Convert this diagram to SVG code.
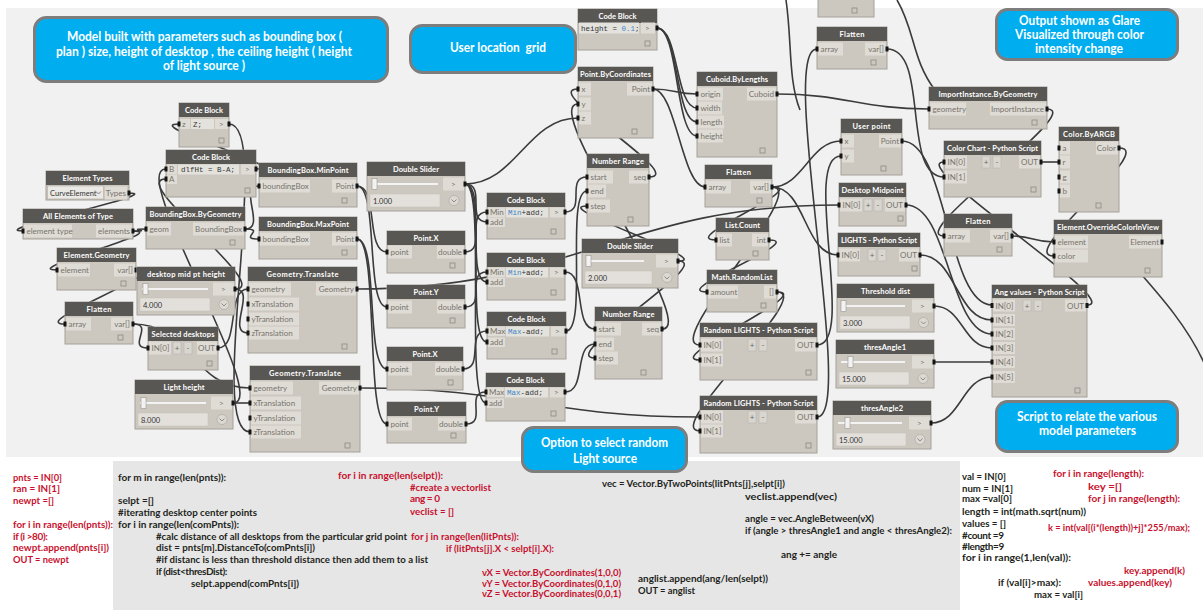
<svg xmlns="http://www.w3.org/2000/svg" width="1203" height="610" viewBox="0 0 1203 610">
<style>
.nb{fill:#ccc8c0;stroke:#a6a29a;stroke-width:1}
.nh{fill:#595753}
.ht{font-family:Lato,"Open Sans",sans-serif;font-weight:700;font-size:7.5px;fill:#fff;text-anchor:middle}
.pl{fill:#dfdcd6}
.ca{fill:#e4e2dd}
.pt{font-family:Lato,"Open Sans",sans-serif;font-size:8px;fill:#77736c}
.pr{text-anchor:end}
.pc{fill:#151515}
.ic{fill:none;stroke:#8d8983;stroke-width:.8}
.cd{font-family:"Liberation Mono","DejaVu Sans Mono",monospace;font-size:7.5px;fill:#333}
.bl{fill:#3f86c6}
.btn{fill:#d9d6d0;stroke:#b5b1aa;stroke-width:.5}
.bt{font-family:Lato,sans-serif;font-size:8px;fill:#666;text-anchor:middle}
.vb{fill:#e3e0db;stroke:#c2beb7;stroke-width:.5}
.tv{font-family:Lato,sans-serif;font-size:7.5px;fill:#333}
.th{fill:#f2f2f2;stroke:#9a968f;stroke-width:.6}
.trk{stroke:#f3f3f3;stroke-width:2}
.cc{fill:#dcd9d3;stroke:#a9a59e;stroke-width:.6}
.cv{fill:none;stroke:#777;stroke-width:.8}
.w{fill:none;stroke:#3b3b3b;stroke-width:1.6}
.co{fill:#00aeef;stroke:#7d7d7d;stroke-width:3}
.ct{font-family:Lato,"Open Sans",sans-serif;font-weight:700;font-size:12.5px;fill:#fff;text-anchor:middle}
.tk{font-family:Lato,"Open Sans",sans-serif;font-weight:700;font-size:10px;fill:#231f20}
.nx{letter-spacing:-0.4px}
.tr{fill:#c8102e}
</style>
<rect x="0" y="0" width="1203" height="610" fill="#ffffff"/>
<rect x="6" y="8" width="1197" height="449" fill="#f1f1f1"/>
<rect x="113" y="461" width="847" height="149" fill="#e6e6e6"/>

<g id="connectors">
<path class="w" d="M129,193 C169,193 -17,231 23,231"/>
<path class="w" d="M133,231 C155,231 124,229 146,229"/>
<path class="w" d="M133,231 C173,231 17,270 57,270"/>
<path class="w" d="M136,270 C176,270 25,324 65,324"/>
<path class="w" d="M133,324 C155,324 126,348 148,348"/>
<path class="w" d="M133,324 C191,324 192,388 250,388"/>
<path class="w" d="M218,348 C240,348 226,289 248,289"/>
<path class="w" d="M235,289 C257,289 226,333 248,333"/>
<path class="w" d="M235,289 C275,289 126,179 166,179"/>
<path class="w" d="M233,403 C273,403 126,169 166,169"/>
<path class="w" d="M233,403 L250,403"/>
<path class="w" d="M256,169 C296,169 139,124 179,124"/>
<path class="w" d="M229,124 C274,124 205,432 250,432"/>
<path class="w" d="M245,229 C267,229 237,186 259,186"/>
<path class="w" d="M245,229 C267,229 237,239 259,239"/>
<path class="w" d="M357,186 C379,186 365,252 387,252"/>
<path class="w" d="M357,186 C379,186 365,307 387,307"/>
<path class="w" d="M357,239 C379,239 365,369 387,369"/>
<path class="w" d="M357,239 C379,239 365,424 387,424"/>
<path class="w" d="M465,184 C487,184 465,222 487,222"/>
<path class="w" d="M465,184 C487,184 465,282 487,282"/>
<path class="w" d="M465,184 C487,184 465,342 487,342"/>
<path class="w" d="M465,184 C487,184 464,403 486,403"/>
<path class="w" d="M465,184 C516,184 527,118 578,118"/>
<path class="w" d="M465,252 C487,252 465,212 487,212"/>
<path class="w" d="M465,307 C487,307 465,272 487,272"/>
<path class="w" d="M463,369 C485,369 465,331 487,331"/>
<path class="w" d="M466,424 C488,424 464,392 486,392"/>
<path class="w" d="M565,212 C587,212 565,177 587,177"/>
<path class="w" d="M566,331 C588,331 565,191 587,191"/>
<path class="w" d="M565,272 C587,272 573,329 595,329"/>
<path class="w" d="M565,392 C587,392 573,344 595,344"/>
<path class="w" d="M678,261 C718,261 547,206 587,206"/>
<path class="w" d="M678,261 C718,261 555,358 595,358"/>
<path class="w" d="M649,177 C689,177 538,89 578,89"/>
<path class="w" d="M662,329 C702,329 538,104 578,104"/>
<path class="w" d="M653,89 C675,89 675,94 697,94"/>
<path class="w" d="M657,28 C679,28 675,108 697,108"/>
<path class="w" d="M657,28 C679,28 675,122 697,122"/>
<path class="w" d="M657,28 C679,28 675,136 697,136"/>
<path class="w" d="M653,89 C676,89 682,187 705,187"/>
<path class="w" d="M777,94 C845,94 861,109 929,109"/>
<path class="w" d="M772,187 C812,187 676,240 716,240"/>
<path class="w" d="M772,187 C812,187 660,345 700,345"/>
<path class="w" d="M769,240 C809,240 667,292 707,292"/>
<path class="w" d="M777,292 C817,292 660,360 700,360"/>
<path class="w" d="M777,292 C817,292 660,431 700,431"/>
<path class="w" d="M360,388 C513,388 547,417 700,417"/>
<path class="w" d="M357,289 C574,289 622,205 839,205"/>
<path class="w" d="M772,187 C803,187 810,141 841,141"/>
<path class="w" d="M772,187 C806,187 804,255 838,255"/>
<path class="w" d="M817,345 C857,345 801,156 841,156"/>
<path class="w" d="M817,417 C857,417 777,49 817,49"/>
<path class="w" d="M902,141 C947,141 947,305 992,305"/>
<path class="w" d="M920,255 C956,255 956,320 992,320"/>
<path class="w" d="M906,205 C949,205 949,334 992,334"/>
<path class="w" d="M934,306 C963,306 963,348 992,348"/>
<path class="w" d="M934,362 C963,362 963,362 992,362"/>
<path class="w" d="M931,423 C961,423 962,377 992,377"/>
<path class="w" d="M1087,305 C1127,305 904,162 944,162"/>
<path class="w" d="M1041,162 L1059,162"/>
<path class="w" d="M1119,148 C1159,148 1014,256 1054,256"/>
<path class="w" d="M1047,109 C1087,109 904,236 944,236"/>
<path class="w" d="M1012,236 C1033,236 1033,242 1054,242"/>
<path class="w" d="M887,49 C930,49 901,177 944,177"/>
<path class="w" d="M1120,250 C1150,285 1185,320 1205,365"/>
<path class="w" d="M897,0 C915,30 912,60 935,90"/>
<path class="w" d="M786,0 C792,40 788,80 800,110"/>
</g>

<g id="callout-model"><rect class="co" x="34.5" y="17.5" width="353" height="64" rx="12"/>
<text class="ct" x="204.5" y="41" textLength="275" lengthAdjust="spacingAndGlyphs">Model built with parameters such as bounding box (</text>
<text class="ct" x="204" y="56" textLength="296" lengthAdjust="spacingAndGlyphs">plan ) size, height of desktop , the ceiling height ( height</text>
<text class="ct" x="204" y="70" textLength="82" lengthAdjust="spacingAndGlyphs">of light source )</text></g>
<g id="callout-grid"><rect class="co" x="410.5" y="25.5" width="165" height="47" rx="12"/>
<text class="ct" x="498" y="52" textLength="96" lengthAdjust="spacingAndGlyphs" xml:space="preserve">User location  grid</text></g>
<g id="callout-output"><rect class="co" x="996.5" y="9.5" width="181" height="50" rx="11"/>
<text class="ct" x="1079.5" y="25" textLength="121" lengthAdjust="spacingAndGlyphs">Output shown as Glare</text>
<text class="ct" x="1079.5" y="39" textLength="129" lengthAdjust="spacingAndGlyphs">Visualized through color</text>
<text class="ct" x="1079" y="53" textLength="88" lengthAdjust="spacingAndGlyphs">intensity change</text></g>
<g id="callout-script"><rect class="co" x="996.5" y="401.5" width="181" height="50" rx="11"/>
<text class="ct" x="1087" y="421" textLength="140" lengthAdjust="spacingAndGlyphs">Script to relate the various</text>
<text class="ct" x="1087.5" y="435" textLength="97" lengthAdjust="spacingAndGlyphs">model parameters</text></g>
<g id="callout-random"><rect class="co" x="522.5" y="427.5" width="164" height="44" rx="11"/>
<text class="ct" x="604.5" y="447" textLength="127" lengthAdjust="spacingAndGlyphs">Option to select random</text>
<text class="ct" x="605" y="463" textLength="64" lengthAdjust="spacingAndGlyphs">Light source</text></g>

<g id="cb-z"><rect class="nb" x="179" y="103" width="50" height="44"/><rect class="nh" x="179" y="103" width="50" height="14"/><text class="ht" x="204" y="113" textLength="38">Code Block</text>
<rect class="pl" x="180" y="119" width="10" height="10"/><text class="pt" x="182" y="127">z</text>
<rect class="ca" x="191" y="119" width="23" height="10"/><text class="cd" x="193" y="127">Z;</text>
<rect class="pl" x="215" y="119" width="13" height="10"/><text class="pt" x="219" y="127">&gt;</text>
<rect class="pc" x="177.5" y="121.5" width="3" height="5"/><rect class="pc" x="227.5" y="121.5" width="3" height="5"/><rect class="ic" x="219" y="138" width="5" height="5"/></g>

<g id="cb-dlf"><rect class="nb" x="166" y="150" width="90" height="47"/><rect class="nh" x="166" y="150" width="90" height="14"/><text class="ht" x="211" y="160" textLength="38">Code Block</text>
<rect class="pl" x="167" y="164.5" width="10" height="9.5"/><text class="pt" x="169" y="172">B</text>
<rect class="pl" x="167" y="174.5" width="10" height="9.5"/><text class="pt" x="169" y="182">A</text>
<rect class="ca" x="178" y="164.5" width="61" height="10"/><text class="cd" x="181" y="172">dlfHt = B-A;</text>
<rect class="pl" x="241" y="164.5" width="14" height="10"/><text class="pt" x="245" y="172">&gt;</text>
<rect class="pc" x="164.5" y="166.5" width="3" height="5"/><rect class="pc" x="164.5" y="176.5" width="3" height="5"/><rect class="pc" x="254.5" y="166.5" width="3" height="5"/><rect class="ic" x="245" y="188" width="5" height="5"/></g>

<g id="element-types"><rect class="nb" x="46" y="171" width="83" height="29"/><rect class="nh" x="46" y="171" width="83" height="14"/><text class="ht" x="87.5" y="181" textLength="50">Element Types</text>
<rect x="47.5" y="186" width="56" height="13" fill="#ebe9e5" stroke="#b0aca4" stroke-width=".6"/><text class="tv" x="50" y="195.5">CurveElement</text><path d="M96,191.5 l2.5,2.5 l2.5,-2.5" fill="none" stroke="#666" stroke-width=".8"/>
<rect class="pl" x="105" y="186.5" width="22" height="13"/><text class="pt pr" x="126" y="195.5">Types</text><rect class="pc" x="127.5" y="190.5" width="3" height="5"/></g>

<g id="all-elements"><rect class="nb" x="23" y="209" width="110" height="30"/><rect class="nh" x="23" y="209" width="110" height="14"/><text class="ht" x="78" y="219" textLength="70">All Elements of Type</text>
<rect class="pl" x="24" y="224.5" width="48" height="13"/><text class="pt" x="26.5" y="234">element type</text><rect class="pc" x="21.5" y="228.5" width="3" height="5"/>
<rect class="pl" x="96" y="224.5" width="36" height="13"/><text class="pt pr" x="130" y="234">elements</text><rect class="pc" x="131.5" y="228.5" width="3" height="5"/></g>

<g id="bbox-geom"><rect class="nb" x="146" y="207" width="99" height="42"/><rect class="nh" x="146" y="207" width="99" height="14"/><text class="ht" x="195.5" y="217" textLength="92">BoundingBox.ByGeometry</text>
<rect class="pl" x="147" y="222.5" width="24" height="13"/><text class="pt" x="149.5" y="232">geom</text><rect class="pc" x="144.5" y="226.5" width="3" height="5"/>
<rect class="pl" x="193" y="222.5" width="51" height="13"/><text class="pt pr" x="242" y="232">BoundingBox</text><rect class="pc" x="243.5" y="226.5" width="3" height="5"/><rect class="ic" x="230" y="240" width="5" height="5"/></g>

<g id="bbox-min"><rect class="nb" x="259" y="163" width="98" height="44"/><rect class="nh" x="259" y="163" width="98" height="14"/><text class="ht" x="308" y="173" textLength="81">BoundingBox.MinPoint</text>
<rect class="pl" x="260" y="179.5" width="50" height="13"/><text class="pt" x="262.5" y="189">boundingBox</text><rect class="pc" x="257.5" y="183.5" width="3" height="5"/>
<rect class="pl" x="332" y="179.5" width="24" height="13"/><text class="pt pr" x="354" y="189">Point</text><rect class="pc" x="355.5" y="183.5" width="3" height="5"/><rect class="ic" x="342" y="198" width="5" height="5"/></g>

<g id="bbox-max"><rect class="nb" x="259" y="217" width="98" height="42"/><rect class="nh" x="259" y="217" width="98" height="14"/><text class="ht" x="308" y="227" textLength="82">BoundingBox.MaxPoint</text>
<rect class="pl" x="260" y="232.5" width="50" height="13"/><text class="pt" x="262.5" y="242">boundingBox</text><rect class="pc" x="257.5" y="236.5" width="3" height="5"/>
<rect class="pl" x="332" y="232.5" width="24" height="13"/><text class="pt pr" x="354" y="242">Point</text><rect class="pc" x="355.5" y="236.5" width="3" height="5"/><rect class="ic" x="342" y="250" width="5" height="5"/></g>

<g id="element-geometry"><rect class="nb" x="57" y="248" width="79" height="42"/><rect class="nh" x="57" y="248" width="79" height="14"/><text class="ht" x="96.5" y="258" textLength="66">Element.Geometry</text>
<rect class="pl" x="58" y="263.5" width="32" height="13"/><text class="pt" x="60.5" y="273">element</text><rect class="pc" x="55.5" y="267.5" width="3" height="5"/>
<rect class="pl" x="114" y="263.5" width="21" height="13"/><text class="pt pr" x="133" y="273">var[]</text><rect class="pc" x="134.5" y="267.5" width="3" height="5"/><rect class="ic" x="121" y="281" width="5" height="5"/></g>

<g id="slider-desk-height"><rect class="nb" x="137" y="267" width="98" height="48"/><rect class="nh" x="137" y="267" width="98" height="14"/><text class="ht" x="186" y="277" textLength="78">desktop mid pt height</text>
<line class="trk" x1="142" y1="289" x2="208" y2="289"/><rect class="th" x="143" y="283.5" width="5" height="11"/>
<rect class="pl" x="213" y="282.5" width="21" height="13"/><text class="pt" x="221" y="292">&gt;</text><rect class="pc" x="233.5" y="286.5" width="3" height="5"/>
<rect class="vb" x="140" y="298" width="70" height="13"/><text class="tv" x="143" y="307.5">4.000</text><circle class="cc" cx="224" cy="304.5" r="5"/><path class="cv" d="M221.5,303.5 l2.5,2.5 l2.5,-2.5"/></g>

<g id="geometry-translate-1"><rect class="nb" x="248" y="267" width="109" height="86"/><rect class="nh" x="248" y="267" width="109" height="14"/><text class="ht" x="302.5" y="277" textLength="72">Geometry.Translate</text>
<rect class="pl" x="249" y="282.5" width="42" height="13"/><text class="pt" x="251.5" y="292">geometry</text><rect class="pc" x="246.5" y="286.5" width="3" height="5"/>
<rect class="pl" x="249" y="297.5" width="50" height="13"/><text class="pt" x="251.5" y="307">xTranslation</text><rect class="pc" x="246.5" y="301.5" width="3" height="5"/>
<rect class="pl" x="249" y="312.5" width="50" height="13"/><text class="pt" x="251.5" y="322">yTranslation</text><rect class="pc" x="246.5" y="316.5" width="3" height="5"/>
<rect class="pl" x="249" y="326.5" width="50" height="13"/><text class="pt" x="251.5" y="336">zTranslation</text><rect class="pc" x="246.5" y="330.5" width="3" height="5"/>
<rect class="pl" x="316" y="282.5" width="40" height="13"/><text class="pt pr" x="354" y="292">Geometry</text><rect class="pc" x="355.5" y="286.5" width="3" height="5"/><rect class="ic" x="342" y="344" width="5" height="5"/></g>

<g id="flatten-left"><rect class="nb" x="65" y="302" width="68" height="42"/><rect class="nh" x="65" y="302" width="68" height="14"/><text class="ht" x="99" y="312" textLength="25">Flatten</text>
<rect class="pl" x="66" y="317.5" width="25" height="13"/><text class="pt" x="68.5" y="327">array</text><rect class="pc" x="63.5" y="321.5" width="3" height="5"/>
<rect class="pl" x="111" y="317.5" width="21" height="13"/><text class="pt pr" x="130" y="327">var[]</text><rect class="pc" x="131.5" y="321.5" width="3" height="5"/><rect class="ic" x="118" y="335" width="5" height="5"/></g>

<g id="selected-desktops"><rect class="nb" x="148" y="327" width="70" height="43"/><rect class="nh" x="148" y="327" width="70" height="14"/><text class="ht" x="183" y="337" textLength="63">Selected desktops</text>
<rect class="pl" x="149" y="341.5" width="22" height="13"/><text class="pt" x="151.5" y="351">IN[0]</text><rect class="pc" x="146.5" y="345.5" width="3" height="5"/>
<rect class="btn" x="173" y="342" width="8" height="12"/><text class="bt" x="177" y="351">+</text><rect class="btn" x="184" y="342" width="8" height="12"/><text class="bt" x="188" y="351">-</text>
<rect class="pl" x="197" y="341.5" width="20" height="13"/><text class="pt pr" x="215" y="351">OUT</text><rect class="pc" x="216.5" y="345.5" width="3" height="5"/><rect class="ic" x="207" y="361" width="5" height="5"/></g>

<g id="slider-light-height"><rect class="nb" x="135" y="380" width="98" height="49"/><rect class="nh" x="135" y="380" width="98" height="14"/><text class="ht" x="184" y="390" textLength="41">Light height</text>
<line class="trk" x1="140" y1="403" x2="206" y2="403"/><rect class="th" x="141" y="397.5" width="5" height="11"/>
<rect class="pl" x="211" y="396.5" width="21" height="13"/><text class="pt" x="219" y="406">&gt;</text><rect class="pc" x="231.5" y="400.5" width="3" height="5"/>
<rect class="vb" x="138" y="413" width="70" height="13"/><text class="tv" x="141" y="422.5">8.000</text><circle class="cc" cx="222" cy="419.5" r="5"/><path class="cv" d="M219.5,418.5 l2.5,2.5 l2.5,-2.5"/></g>

<g id="geometry-translate-2"><rect class="nb" x="250" y="366" width="110" height="86"/><rect class="nh" x="250" y="366" width="110" height="14"/><text class="ht" x="305" y="376" textLength="72">Geometry.Translate</text>
<rect class="pl" x="251" y="381.5" width="42" height="13"/><text class="pt" x="253.5" y="391">geometry</text><rect class="pc" x="248.5" y="385.5" width="3" height="5"/>
<rect class="pl" x="251" y="396.5" width="50" height="13"/><text class="pt" x="253.5" y="406">xTranslation</text><rect class="pc" x="248.5" y="400.5" width="3" height="5"/>
<rect class="pl" x="251" y="411.5" width="50" height="13"/><text class="pt" x="253.5" y="421">yTranslation</text><rect class="pc" x="248.5" y="415.5" width="3" height="5"/>
<rect class="pl" x="251" y="425.5" width="50" height="13"/><text class="pt" x="253.5" y="435">zTranslation</text><rect class="pc" x="248.5" y="429.5" width="3" height="5"/>
<rect class="pl" x="319" y="381.5" width="40" height="13"/><text class="pt pr" x="357" y="391">Geometry</text><rect class="pc" x="358.5" y="385.5" width="3" height="5"/><rect class="ic" x="345" y="443" width="5" height="5"/></g>

<g id="double-slider-1"><rect class="nb" x="367" y="162" width="98" height="49"/><rect class="nh" x="367" y="162" width="98" height="14"/><text class="ht" x="416" y="172" textLength="46">Double Slider</text>
<line class="trk" x1="372" y1="184" x2="438" y2="184"/><rect class="th" x="372" y="178.5" width="5" height="11"/>
<rect class="pl" x="443" y="177.5" width="21" height="13"/><text class="pt" x="451" y="187">&gt;</text><rect class="pc" x="463.5" y="181.5" width="3" height="5"/>
<rect class="vb" x="370" y="194" width="70" height="13"/><text class="tv" x="373" y="203.5">1.000</text><circle class="cc" cx="454" cy="200.5" r="5"/><path class="cv" d="M451.5,199.5 l2.5,2.5 l2.5,-2.5"/></g>

<g id="point-x-1"><rect class="nb" x="387" y="231" width="78" height="42"/><rect class="nh" x="387" y="231" width="78" height="14"/><text class="ht" x="426" y="241" textLength="25">Point.X</text>
<rect class="pl" x="388" y="245.5" width="24" height="13"/><text class="pt" x="390.5" y="255">point</text><rect class="pc" x="385.5" y="249.5" width="3" height="5"/>
<rect class="pl" x="437" y="245.5" width="27" height="13"/><text class="pt pr" x="462" y="255">double</text><rect class="pc" x="463.5" y="249.5" width="3" height="5"/><rect class="ic" x="450" y="263" width="5" height="5"/></g>

<g id="point-y-1"><rect class="nb" x="387" y="285" width="78" height="43"/><rect class="nh" x="387" y="285" width="78" height="14"/><text class="ht" x="426" y="295" textLength="25">Point.Y</text>
<rect class="pl" x="388" y="300.5" width="24" height="13"/><text class="pt" x="390.5" y="310">point</text><rect class="pc" x="385.5" y="304.5" width="3" height="5"/>
<rect class="pl" x="437" y="300.5" width="27" height="13"/><text class="pt pr" x="462" y="310">double</text><rect class="pc" x="463.5" y="304.5" width="3" height="5"/><rect class="ic" x="450" y="318" width="5" height="5"/></g>

<g id="point-x-2"><rect class="nb" x="387" y="347" width="76" height="43"/><rect class="nh" x="387" y="347" width="76" height="14"/><text class="ht" x="425" y="357" textLength="25">Point.X</text>
<rect class="pl" x="388" y="362.5" width="24" height="13"/><text class="pt" x="390.5" y="372">point</text><rect class="pc" x="385.5" y="366.5" width="3" height="5"/>
<rect class="pl" x="435" y="362.5" width="27" height="13"/><text class="pt pr" x="460" y="372">double</text><rect class="pc" x="461.5" y="366.5" width="3" height="5"/><rect class="ic" x="448" y="380" width="5" height="5"/></g>

<g id="point-y-2"><rect class="nb" x="387" y="402" width="79" height="41"/><rect class="nh" x="387" y="402" width="79" height="14"/><text class="ht" x="426.5" y="412" textLength="25">Point.Y</text>
<rect class="pl" x="388" y="417.5" width="24" height="13"/><text class="pt" x="390.5" y="427">point</text><rect class="pc" x="385.5" y="421.5" width="3" height="5"/>
<rect class="pl" x="438" y="417.5" width="27" height="13"/><text class="pt pr" x="463" y="427">double</text><rect class="pc" x="464.5" y="421.5" width="3" height="5"/><rect class="ic" x="451" y="433" width="5" height="5"/></g>

<g id="cb-min-1"><rect class="nb" x="487" y="193" width="78" height="46"/><rect class="nh" x="487" y="193" width="78" height="14"/><text class="ht" x="526" y="203" textLength="38">Code Block</text>
<rect class="pl" x="488" y="207.5" width="17" height="9.5"/><text class="pt" x="490" y="215">Min</text><rect class="pl" x="488" y="217.5" width="17" height="9.5"/><text class="pt" x="490" y="225">add</text>
<rect class="ca" x="506" y="207.5" width="42" height="10"/><text class="cd" x="508" y="215"><tspan class="bl">Min</tspan>+add;</text>
<rect class="pl" x="550" y="207.5" width="14" height="10"/><text class="pt" x="554" y="215">&gt;</text>
<rect class="pc" x="485.5" y="209.5" width="3" height="5"/><rect class="pc" x="485.5" y="219.5" width="3" height="5"/><rect class="pc" x="563.5" y="209.5" width="3" height="5"/><rect class="ic" x="551" y="229" width="5" height="5"/></g>

<g id="cb-min-2"><rect class="nb" x="487" y="253" width="78" height="47"/><rect class="nh" x="487" y="253" width="78" height="14"/><text class="ht" x="526" y="263" textLength="38">Code Block</text>
<rect class="pl" x="488" y="267.5" width="17" height="9.5"/><text class="pt" x="490" y="275">Min</text><rect class="pl" x="488" y="277.5" width="17" height="9.5"/><text class="pt" x="490" y="285">add</text>
<rect class="ca" x="506" y="267.5" width="42" height="10"/><text class="cd" x="508" y="275"><tspan class="bl">Min</tspan>+add;</text>
<rect class="pl" x="550" y="267.5" width="14" height="10"/><text class="pt" x="554" y="275">&gt;</text>
<rect class="pc" x="485.5" y="269.5" width="3" height="5"/><rect class="pc" x="485.5" y="279.5" width="3" height="5"/><rect class="pc" x="563.5" y="269.5" width="3" height="5"/><rect class="ic" x="551" y="290" width="5" height="5"/></g>

<g id="cb-max-1"><rect class="nb" x="487" y="312" width="79" height="47"/><rect class="nh" x="487" y="312" width="79" height="14"/><text class="ht" x="526.5" y="322" textLength="38">Code Block</text>
<rect class="pl" x="488" y="326.5" width="17" height="9.5"/><text class="pt" x="490" y="334">Max</text><rect class="pl" x="488" y="337.5" width="17" height="9.5"/><text class="pt" x="490" y="345">add</text>
<rect class="ca" x="506" y="326.5" width="43" height="10"/><text class="cd" x="508" y="334"><tspan class="bl">Max</tspan>-add;</text>
<rect class="pl" x="551" y="326.5" width="14" height="10"/><text class="pt" x="555" y="334">&gt;</text>
<rect class="pc" x="485.5" y="328.5" width="3" height="5"/><rect class="pc" x="485.5" y="339.5" width="3" height="5"/><rect class="pc" x="564.5" y="328.5" width="3" height="5"/><rect class="ic" x="552" y="349" width="5" height="5"/></g>

<g id="cb-max-2"><rect class="nb" x="486" y="373" width="79" height="48"/><rect class="nh" x="486" y="373" width="79" height="14"/><text class="ht" x="525.5" y="383" textLength="38">Code Block</text>
<rect class="pl" x="487" y="387.5" width="17" height="9.5"/><text class="pt" x="489" y="395">Max</text><rect class="pl" x="487" y="398.5" width="17" height="9.5"/><text class="pt" x="489" y="406">add</text>
<rect class="ca" x="505" y="387.5" width="43" height="10"/><text class="cd" x="507" y="395"><tspan class="bl">Max</tspan>-add;</text>
<rect class="pl" x="550" y="387.5" width="14" height="10"/><text class="pt" x="554" y="395">&gt;</text>
<rect class="pc" x="484.5" y="389.5" width="3" height="5"/><rect class="pc" x="484.5" y="400.5" width="3" height="5"/><rect class="pc" x="563.5" y="389.5" width="3" height="5"/><rect class="ic" x="551" y="411" width="5" height="5"/></g>

<g id="cb-height"><rect class="nb" x="578" y="9" width="79" height="41"/><rect class="nh" x="578" y="9" width="79" height="14"/><text class="ht" x="617.5" y="19" textLength="38">Code Block</text>
<rect class="ca" x="579" y="22.5" width="60" height="11"/><text class="cd" x="581" y="30.5">height = <tspan class="bl">0.1</tspan>;</text>
<rect class="pl" x="641" y="22.5" width="14" height="11"/><text class="pt" x="645" y="30.5">&gt;</text><rect class="pc" x="655.5" y="25.5" width="3" height="5"/><rect class="ic" x="645" y="41" width="5" height="5"/></g>

<g id="point-by-coordinates"><rect class="nb" x="578" y="67" width="75" height="71"/><rect class="nh" x="578" y="67" width="75" height="14"/><text class="ht" x="615.5" y="77" textLength="71">Point.ByCoordinates</text>
<rect class="pl" x="579" y="82.5" width="12" height="13"/><text class="pt" x="581.5" y="92">x</text><rect class="pc" x="576.5" y="86.5" width="3" height="5"/>
<rect class="pl" x="579" y="97.5" width="12" height="13"/><text class="pt" x="581.5" y="107">y</text><rect class="pc" x="576.5" y="101.5" width="3" height="5"/>
<rect class="pl" x="579" y="111.5" width="12" height="13"/><text class="pt" x="581.5" y="121">z</text><rect class="pc" x="576.5" y="115.5" width="3" height="5"/>
<rect class="pl" x="627" y="82.5" width="25" height="13"/><text class="pt pr" x="650" y="92">Point</text><rect class="pc" x="651.5" y="86.5" width="3" height="5"/><rect class="ic" x="632" y="129" width="5" height="5"/></g>

<g id="number-range-1"><rect class="nb" x="587" y="154" width="62" height="72"/><rect class="nh" x="587" y="154" width="62" height="14"/><text class="ht" x="618" y="164" textLength="52">Number Range</text>
<rect class="pl" x="588" y="170.5" width="25" height="13"/><text class="pt" x="590.5" y="180">start</text><rect class="pc" x="585.5" y="174.5" width="3" height="5"/>
<rect class="pl" x="588" y="184.5" width="18" height="13"/><text class="pt" x="590.5" y="194">end</text><rect class="pc" x="585.5" y="188.5" width="3" height="5"/>
<rect class="pl" x="588" y="199.5" width="22" height="13"/><text class="pt" x="590.5" y="209">step</text><rect class="pc" x="585.5" y="203.5" width="3" height="5"/>
<rect class="pl" x="629" y="170.5" width="19" height="13"/><text class="pt pr" x="646" y="180">seq</text><rect class="pc" x="647.5" y="174.5" width="3" height="5"/><rect class="ic" x="628" y="217" width="5" height="5"/></g>

<g id="double-slider-2"><rect class="nb" x="582" y="239" width="96" height="49"/><rect class="nh" x="582" y="239" width="96" height="14"/><text class="ht" x="630" y="249" textLength="46">Double Slider</text>
<line class="trk" x1="587" y1="261" x2="644" y2="261"/><rect class="th" x="586" y="255.5" width="5" height="11"/>
<rect class="pl" x="656" y="254.5" width="21" height="13"/><text class="pt" x="664" y="264">&gt;</text><rect class="pc" x="676.5" y="258.5" width="3" height="5"/>
<rect class="vb" x="585" y="271" width="67" height="13"/><text class="tv" x="588" y="280.5">2.000</text><circle class="cc" cx="667" cy="277.5" r="5"/><path class="cv" d="M664.5,276.5 l2.5,2.5 l2.5,-2.5"/></g>

<g id="number-range-2"><rect class="nb" x="595" y="307" width="67" height="72"/><rect class="nh" x="595" y="307" width="67" height="14"/><text class="ht" x="628.5" y="317" textLength="52">Number Range</text>
<rect class="pl" x="596" y="322.5" width="25" height="13"/><text class="pt" x="598.5" y="332">start</text><rect class="pc" x="593.5" y="326.5" width="3" height="5"/>
<rect class="pl" x="596" y="337.5" width="18" height="13"/><text class="pt" x="598.5" y="347">end</text><rect class="pc" x="593.5" y="341.5" width="3" height="5"/>
<rect class="pl" x="596" y="351.5" width="22" height="13"/><text class="pt" x="598.5" y="361">step</text><rect class="pc" x="593.5" y="355.5" width="3" height="5"/>
<rect class="pl" x="642" y="322.5" width="19" height="13"/><text class="pt pr" x="659" y="332">seq</text><rect class="pc" x="660.5" y="326.5" width="3" height="5"/><rect class="ic" x="641" y="370" width="5" height="5"/></g>

<g id="cuboid-by-lengths"><rect class="nb" x="697" y="72" width="80" height="85"/><rect class="nh" x="697" y="72" width="80" height="14"/><text class="ht" x="737" y="82" textLength="62">Cuboid.ByLengths</text>
<rect class="pl" x="698" y="87.5" width="25" height="13"/><text class="pt" x="700.5" y="97">origin</text><rect class="pc" x="695.5" y="91.5" width="3" height="5"/>
<rect class="pl" x="698" y="101.5" width="24" height="13"/><text class="pt" x="700.5" y="111">width</text><rect class="pc" x="695.5" y="105.5" width="3" height="5"/>
<rect class="pl" x="698" y="115.5" width="26" height="13"/><text class="pt" x="700.5" y="125">length</text><rect class="pc" x="695.5" y="119.5" width="3" height="5"/>
<rect class="pl" x="698" y="129.5" width="25" height="13"/><text class="pt" x="700.5" y="139">height</text><rect class="pc" x="695.5" y="133.5" width="3" height="5"/>
<rect class="pl" x="747" y="87.5" width="29" height="13"/><text class="pt pr" x="774" y="97">Cuboid</text><rect class="pc" x="775.5" y="91.5" width="3" height="5"/><rect class="ic" x="760" y="148" width="5" height="5"/></g>

<g id="flatten-mid"><rect class="nb" x="705" y="165" width="67" height="42"/><rect class="nh" x="705" y="165" width="67" height="14"/><text class="ht" x="738.5" y="175" textLength="25">Flatten</text>
<rect class="pl" x="706" y="180.5" width="25" height="13"/><text class="pt" x="708.5" y="190">array</text><rect class="pc" x="703.5" y="184.5" width="3" height="5"/>
<rect class="pl" x="750" y="180.5" width="21" height="13"/><text class="pt pr" x="769" y="190">var[]</text><rect class="pc" x="770.5" y="184.5" width="3" height="5"/><rect class="ic" x="757" y="198" width="5" height="5"/></g>

<g id="list-count"><rect class="nb" x="716" y="218" width="53" height="42"/><rect class="nh" x="716" y="218" width="53" height="14"/><text class="ht" x="742.5" y="228" textLength="35">List.Count</text>
<rect class="pl" x="717" y="233.5" width="15" height="13"/><text class="pt" x="719.5" y="243">list</text><rect class="pc" x="714.5" y="237.5" width="3" height="5"/>
<rect class="pl" x="752" y="233.5" width="16" height="13"/><text class="pt pr" x="766" y="243">int</text><rect class="pc" x="767.5" y="237.5" width="3" height="5"/><rect class="ic" x="753" y="251" width="5" height="5"/></g>

<g id="math-random-list"><rect class="nb" x="707" y="270" width="70" height="42"/><rect class="nh" x="707" y="270" width="70" height="14"/><text class="ht" x="742" y="280" textLength="61">Math.RandomList</text>
<rect class="pl" x="708" y="285.5" width="30" height="13"/><text class="pt" x="710.5" y="295">amount</text><rect class="pc" x="705.5" y="289.5" width="3" height="5"/>
<rect class="pl" x="764" y="285.5" width="12" height="13"/><text class="pt pr" x="774" y="295">[]</text><rect class="pc" x="775.5" y="289.5" width="3" height="5"/><rect class="ic" x="761" y="303" width="5" height="5"/></g>

<g id="random-lights-1"><rect class="nb" x="700" y="323" width="117" height="57"/><rect class="nh" x="700" y="323" width="117" height="14"/><text class="ht" x="758.5" y="333" textLength="110">Random LIGHTS - Python Script</text>
<rect class="pl" x="701" y="338.5" width="22" height="13"/><text class="pt" x="703.5" y="348">IN[0]</text><rect class="pc" x="698.5" y="342.5" width="3" height="5"/>
<rect class="pl" x="701" y="353.5" width="22" height="13"/><text class="pt" x="703.5" y="363">IN[1]</text><rect class="pc" x="698.5" y="357.5" width="3" height="5"/>
<rect class="btn" x="748" y="339" width="8" height="12"/><text class="bt" x="752" y="348">+</text><rect class="btn" x="759" y="339" width="8" height="12"/><text class="bt" x="763" y="348">-</text>
<rect class="pl" x="795" y="338.5" width="21" height="13"/><text class="pt pr" x="814" y="348">OUT</text><rect class="pc" x="815.5" y="342.5" width="3" height="5"/><rect class="ic" x="806" y="370" width="5" height="5"/></g>

<g id="random-lights-2"><rect class="nb" x="700" y="396" width="117" height="57"/><rect class="nh" x="700" y="396" width="117" height="14"/><text class="ht" x="758.5" y="406" textLength="110">Random LIGHTS - Python Script</text>
<rect class="pl" x="701" y="410.5" width="22" height="13"/><text class="pt" x="703.5" y="420">IN[0]</text><rect class="pc" x="698.5" y="414.5" width="3" height="5"/>
<rect class="pl" x="701" y="424.5" width="22" height="13"/><text class="pt" x="703.5" y="434">IN[1]</text><rect class="pc" x="698.5" y="428.5" width="3" height="5"/>
<rect class="btn" x="748" y="411" width="8" height="12"/><text class="bt" x="752" y="420">+</text><rect class="btn" x="759" y="411" width="8" height="12"/><text class="bt" x="763" y="420">-</text>
<rect class="pl" x="795" y="410.5" width="21" height="13"/><text class="pt pr" x="814" y="420">OUT</text><rect class="pc" x="815.5" y="414.5" width="3" height="5"/><rect class="ic" x="806" y="443" width="5" height="5"/></g>

<g id="top-node"><rect class="nb" x="818" y="-2" width="56" height="19"/><rect class="ic" x="852" y="8" width="5" height="5"/></g>

<g id="flatten-top"><rect class="nb" x="817" y="27" width="70" height="42"/><rect class="nh" x="817" y="27" width="70" height="14"/><text class="ht" x="852" y="37" textLength="25">Flatten</text>
<rect class="pl" x="818" y="42.5" width="25" height="13"/><text class="pt" x="820.5" y="52">array</text><rect class="pc" x="815.5" y="46.5" width="3" height="5"/>
<rect class="pl" x="865" y="42.5" width="21" height="13"/><text class="pt pr" x="884" y="52">var[]</text><rect class="pc" x="885.5" y="46.5" width="3" height="5"/><rect class="ic" x="871" y="60" width="5" height="5"/></g>

<g id="import-instance"><rect class="nb" x="929" y="87" width="118" height="42"/><rect class="nh" x="929" y="87" width="118" height="14"/><text class="ht" x="988" y="97" textLength="99">ImportInstance.ByGeometry</text>
<rect class="pl" x="930" y="102.5" width="36" height="13"/><text class="pt" x="932.5" y="112">geometry</text><rect class="pc" x="927.5" y="106.5" width="3" height="5"/>
<rect class="pl" x="990" y="102.5" width="56" height="13"/><text class="pt pr" x="1044" y="112">ImportInstance</text><rect class="pc" x="1045.5" y="106.5" width="3" height="5"/><rect class="ic" x="1032" y="120" width="5" height="5"/></g>

<g id="user-point"><rect class="nb" x="841" y="119" width="61" height="56"/><rect class="nh" x="841" y="119" width="61" height="14"/><text class="ht" x="871.5" y="129" textLength="38">User point</text>
<rect class="pl" x="842" y="134.5" width="12" height="13"/><text class="pt" x="844.5" y="144">x</text><rect class="pc" x="839.5" y="138.5" width="3" height="5"/>
<rect class="pl" x="842" y="149.5" width="12" height="13"/><text class="pt" x="844.5" y="159">y</text><rect class="pc" x="839.5" y="153.5" width="3" height="5"/>
<rect class="pl" x="879" y="134.5" width="22" height="13"/><text class="pt pr" x="899" y="144">Point</text><rect class="pc" x="900.5" y="138.5" width="3" height="5"/><rect class="ic" x="881" y="166" width="5" height="5"/></g>

<g id="color-chart"><rect class="nb" x="944" y="141" width="97" height="56"/><rect class="nh" x="944" y="141" width="97" height="14"/><text class="ht" x="992.5" y="151" textLength="91">Color Chart - Python Script</text>
<rect class="pl" x="945" y="155.5" width="22" height="13"/><text class="pt" x="947.5" y="165">IN[0]</text><rect class="pc" x="942.5" y="159.5" width="3" height="5"/>
<rect class="pl" x="945" y="170.5" width="22" height="13"/><text class="pt" x="947.5" y="180">IN[1]</text><rect class="pc" x="942.5" y="174.5" width="3" height="5"/>
<rect class="btn" x="982" y="156" width="8" height="12"/><text class="bt" x="986" y="165">+</text><rect class="btn" x="993" y="156" width="8" height="12"/><text class="bt" x="997" y="165">-</text>
<rect class="pl" x="1019" y="155.5" width="21" height="13"/><text class="pt pr" x="1038" y="165">OUT</text><rect class="pc" x="1039.5" y="159.5" width="3" height="5"/><rect class="ic" x="1031" y="187" width="5" height="5"/></g>

<g id="color-argb"><rect class="nb" x="1059" y="127" width="60" height="85"/><rect class="nh" x="1059" y="127" width="60" height="14"/><text class="ht" x="1089" y="137" textLength="52">Color.ByARGB</text>
<rect class="pl" x="1060" y="141.5" width="10" height="13"/><text class="pt" x="1062.5" y="151">a</text><rect class="pc" x="1057.5" y="145.5" width="3" height="5"/>
<rect class="pl" x="1060" y="155.5" width="10" height="13"/><text class="pt" x="1062.5" y="165">r</text><rect class="pc" x="1057.5" y="159.5" width="3" height="5"/>
<rect class="pl" x="1060" y="170.5" width="10" height="13"/><text class="pt" x="1062.5" y="180">g</text><rect class="pc" x="1057.5" y="174.5" width="3" height="5"/>
<rect class="pl" x="1060" y="184.5" width="10" height="13"/><text class="pt" x="1062.5" y="194">b</text><rect class="pc" x="1057.5" y="188.5" width="3" height="5"/>
<rect class="pl" x="1096" y="141.5" width="22" height="13"/><text class="pt pr" x="1116" y="151">Color</text><rect class="pc" x="1117.5" y="145.5" width="3" height="5"/><rect class="ic" x="1096" y="203" width="5" height="5"/></g>

<g id="desktop-midpoint"><rect class="nb" x="839" y="183" width="67" height="43"/><rect class="nh" x="839" y="183" width="67" height="14"/><text class="ht" x="872.5" y="193" textLength="62">Desktop Midpoint</text>
<rect class="pl" x="840" y="198.5" width="22" height="13"/><text class="pt" x="842.5" y="208">IN[0]</text><rect class="pc" x="837.5" y="202.5" width="3" height="5"/>
<rect class="btn" x="864" y="199" width="8" height="12"/><text class="bt" x="868" y="208">+</text><rect class="btn" x="874" y="199" width="8" height="12"/><text class="bt" x="878" y="208">-</text>
<rect class="pl" x="885" y="198.5" width="20" height="13"/><text class="pt pr" x="903" y="208">OUT</text><rect class="pc" x="904.5" y="202.5" width="3" height="5"/><rect class="ic" x="898" y="216" width="5" height="5"/></g>

<g id="lights-script"><rect class="nb" x="838" y="233" width="82" height="43"/><rect class="nh" x="838" y="233" width="82" height="14"/><text class="ht" x="879" y="243" textLength="76">LIGHTS - Python Script</text>
<rect class="pl" x="839" y="248.5" width="21" height="13"/><text class="pt" x="841.5" y="258">IN[0]</text><rect class="pc" x="836.5" y="252.5" width="3" height="5"/>
<rect class="btn" x="868" y="249" width="8" height="12"/><text class="bt" x="872" y="258">+</text><rect class="btn" x="878" y="249" width="8" height="12"/><text class="bt" x="882" y="258">-</text>
<rect class="pl" x="899" y="248.5" width="20" height="13"/><text class="pt pr" x="917" y="258">OUT</text><rect class="pc" x="918.5" y="252.5" width="3" height="5"/><rect class="ic" x="912" y="266" width="5" height="5"/></g>

<g id="flatten-right"><rect class="nb" x="944" y="214" width="68" height="42"/><rect class="nh" x="944" y="214" width="68" height="14"/><text class="ht" x="978" y="224" textLength="25">Flatten</text>
<rect class="pl" x="945" y="229.5" width="25" height="13"/><text class="pt" x="947.5" y="239">array</text><rect class="pc" x="942.5" y="233.5" width="3" height="5"/>
<rect class="pl" x="990" y="229.5" width="21" height="13"/><text class="pt pr" x="1009" y="239">var[]</text><rect class="pc" x="1010.5" y="233.5" width="3" height="5"/><rect class="ic" x="997" y="247" width="5" height="5"/></g>

<g id="override-color"><rect class="nb" x="1054" y="220" width="108" height="57"/><rect class="nh" x="1054" y="220" width="108" height="14"/><text class="ht" x="1108" y="230" textLength="102">Element.OverrideColorInView</text>
<rect class="pl" x="1055" y="235.5" width="33" height="13"/><text class="pt" x="1057.5" y="245">element</text><rect class="pc" x="1052.5" y="239.5" width="3" height="5"/>
<rect class="pl" x="1055" y="249.5" width="33" height="13"/><text class="pt" x="1057.5" y="259">color</text><rect class="pc" x="1052.5" y="253.5" width="3" height="5"/>
<rect class="pl" x="1129" y="235.5" width="32" height="13"/><text class="pt pr" x="1159" y="245">Element</text><rect class="pc" x="1160.5" y="239.5" width="3" height="5"/><rect class="ic" x="1145" y="268" width="5" height="5"/></g>

<g id="threshold-dist"><rect class="nb" x="837" y="284" width="97" height="48"/><rect class="nh" x="837" y="284" width="97" height="14"/><text class="ht" x="885.5" y="294" textLength="49">Threshold dist</text>
<line class="trk" x1="842" y1="306" x2="905" y2="306"/><rect class="th" x="841" y="300.5" width="5" height="11"/>
<rect class="pl" x="912" y="299.5" width="21" height="13"/><text class="pt" x="920" y="309">&gt;</text><rect class="pc" x="932.5" y="303.5" width="3" height="5"/>
<rect class="vb" x="840" y="316" width="70" height="13"/><text class="tv" x="843" y="325.5">3.000</text><circle class="cc" cx="923.5" cy="322.5" r="5"/><path class="cv" d="M921,321.5 l2.5,2.5 l2.5,-2.5"/></g>

<g id="ang-values"><rect class="nb" x="992" y="285" width="95" height="112"/><rect class="nh" x="992" y="285" width="95" height="13"/><text class="ht" x="1039.5" y="294.5" textLength="90">Ang values - Python Script</text>
<rect class="pl" x="993" y="299.5" width="22" height="12"/><text class="pt" x="995.5" y="308.5">IN[0]</text><rect class="pc" x="990.5" y="303" width="3" height="5"/>
<rect class="pl" x="993" y="314" width="22" height="12"/><text class="pt" x="995.5" y="323">IN[1]</text><rect class="pc" x="990.5" y="317.5" width="3" height="5"/>
<rect class="pl" x="993" y="328" width="22" height="12"/><text class="pt" x="995.5" y="337">IN[2]</text><rect class="pc" x="990.5" y="331.5" width="3" height="5"/>
<rect class="pl" x="993" y="342" width="22" height="12"/><text class="pt" x="995.5" y="351">IN[3]</text><rect class="pc" x="990.5" y="345.5" width="3" height="5"/>
<rect class="pl" x="993" y="356" width="22" height="12"/><text class="pt" x="995.5" y="365">IN[4]</text><rect class="pc" x="990.5" y="359.5" width="3" height="5"/>
<rect class="pl" x="993" y="371" width="22" height="12"/><text class="pt" x="995.5" y="380">IN[5]</text><rect class="pc" x="990.5" y="374.5" width="3" height="5"/>
<rect class="btn" x="1023" y="300" width="8" height="11"/><text class="bt" x="1027" y="308.5">+</text><rect class="btn" x="1034" y="300" width="8" height="11"/><text class="bt" x="1038" y="308.5">-</text>
<rect class="pl" x="1065" y="299.5" width="21" height="12"/><text class="pt pr" x="1084" y="308.5">OUT</text><rect class="pc" x="1085.5" y="303" width="3" height="5"/><rect class="ic" x="1075" y="388" width="5" height="5"/></g>

<g id="thres-angle-1"><rect class="nb" x="836" y="340" width="98" height="48"/><rect class="nh" x="836" y="340" width="98" height="14"/><text class="ht" x="885" y="350" textLength="42">thresAngle1</text>
<line class="trk" x1="841" y1="362" x2="905" y2="362"/><rect class="th" x="848" y="356.5" width="5" height="11"/>
<rect class="pl" x="912" y="355.5" width="21" height="13"/><text class="pt" x="920" y="365">&gt;</text><rect class="pc" x="932.5" y="359.5" width="3" height="5"/>
<rect class="vb" x="839" y="372" width="70" height="13"/><text class="tv" x="842" y="381.5">15.000</text><circle class="cc" cx="923" cy="378.5" r="5"/><path class="cv" d="M920.5,377.5 l2.5,2.5 l2.5,-2.5"/></g>

<g id="thres-angle-2"><rect class="nb" x="833" y="401" width="98" height="48"/><rect class="nh" x="833" y="401" width="98" height="14"/><text class="ht" x="882" y="411" textLength="42">thresAngle2</text>
<line class="trk" x1="838" y1="423" x2="902" y2="423"/><rect class="th" x="845" y="417.5" width="5" height="11"/>
<rect class="pl" x="909" y="416.5" width="21" height="13"/><text class="pt" x="917" y="426">&gt;</text><rect class="pc" x="929.5" y="420.5" width="3" height="5"/>
<rect class="vb" x="836" y="433" width="70" height="13"/><text class="tv" x="839" y="442.5">15.000</text><circle class="cc" cx="920" cy="439.5" r="5"/><path class="cv" d="M917.5,438.5 l2.5,2.5 l2.5,-2.5"/></g>

<g id="code-text">
<text class="tk tr" x="13" y="480.5" textLength="49" lengthAdjust="spacingAndGlyphs">pnts = IN[0]</text>
<text class="tk tr" x="13" y="491.5" textLength="47" lengthAdjust="spacingAndGlyphs">ran = IN[1]</text>
<text class="tk tr" x="13" y="503.5" textLength="41" lengthAdjust="spacingAndGlyphs">newpt =[]</text>
<text class="tk tr" x="13" y="527.5" textLength="100" lengthAdjust="spacingAndGlyphs">for i in range(len(pnts)):</text>
<text class="tk tr nx" x="13" y="539.5">if (i &gt;80):</text>
<text class="tk tr" x="13" y="551" textLength="96" lengthAdjust="spacingAndGlyphs">newpt.append(pnts[i])</text>
<text class="tk tr" x="13" y="562.5" textLength="56" lengthAdjust="spacingAndGlyphs">OUT = newpt</text>

<text class="tk" x="118" y="480.5" textLength="108" lengthAdjust="spacingAndGlyphs">for m in range(len(pnts)):</text>
<text class="tk" x="118" y="503.5" textLength="36" lengthAdjust="spacingAndGlyphs">selpt =[]</text>
<text class="tk" x="118" y="515.5" textLength="139" lengthAdjust="spacingAndGlyphs">#iterating desktop center points</text>
<text class="tk" x="118" y="527.5" textLength="121" lengthAdjust="spacingAndGlyphs">for i in range(len(comPnts)):</text>
<text class="tk" x="156" y="539.5" textLength="251" lengthAdjust="spacingAndGlyphs">#calc distance of all desktops from the particular grid point</text>
<text class="tk" x="156" y="551" textLength="159" lengthAdjust="spacingAndGlyphs">dist = pnts[m].DistanceTo(comPnts[i])</text>
<text class="tk" x="156" y="562.5" textLength="272" lengthAdjust="spacingAndGlyphs">#if distanc is less than threshold distance then add them to a list</text>
<text class="tk nx" x="156" y="574.5">if (dist&lt;thresDist):</text>
<text class="tk" x="191" y="586.5" textLength="108" lengthAdjust="spacingAndGlyphs">selpt.append(comPnts[i])</text>

<text class="tk tr" x="338" y="478.5" textLength="105" lengthAdjust="spacingAndGlyphs">for i in range(len(selpt)):</text>
<text class="tk tr" x="410" y="490.5" textLength="81" lengthAdjust="spacingAndGlyphs">#create a vectorlist</text>
<text class="tk tr nx" x="410" y="502">ang = 0</text>
<text class="tk tr" x="410" y="514.5" textLength="44" lengthAdjust="spacingAndGlyphs">veclist = []</text>
<text class="tk tr" x="411" y="539.5" textLength="108" lengthAdjust="spacingAndGlyphs">for j in range(len(litPnts)):</text>
<text class="tk tr" x="446" y="551.5" textLength="108" lengthAdjust="spacingAndGlyphs">if (litPnts[j].X &lt; selpt[i].X):</text>
<text class="tk tr" x="482" y="575.5" textLength="139" lengthAdjust="spacingAndGlyphs">vX = Vector.ByCoordinates(1,0,0)</text>
<text class="tk tr" x="482" y="586.5" textLength="139" lengthAdjust="spacingAndGlyphs">vY = Vector.ByCoordinates(0,1,0)</text>
<text class="tk tr" x="482" y="597" textLength="139" lengthAdjust="spacingAndGlyphs">vZ = Vector.ByCoordinates(0,0,1)</text>

<text class="tk" x="602" y="486.5" textLength="183" lengthAdjust="spacingAndGlyphs">vec = Vector.ByTwoPoints(litPnts[j],selpt[i])</text>
<text class="tk" x="745" y="499.5" textLength="92" lengthAdjust="spacingAndGlyphs">veclist.append(vec)</text>
<text class="tk" x="745" y="521.5" textLength="129" lengthAdjust="spacingAndGlyphs">angle = vec.AngleBetween(vX)</text>
<text class="tk" x="745" y="533.5" textLength="207" lengthAdjust="spacingAndGlyphs">if (angle &gt; thresAngle1 and angle &lt; thresAngle2):</text>
<text class="tk" x="781" y="557.5" textLength="56" lengthAdjust="spacingAndGlyphs">ang += angle</text>
<text class="tk" x="638" y="581.5" textLength="130" lengthAdjust="spacingAndGlyphs">anglist.append(ang/len(selpt))</text>
<text class="tk" x="638" y="593.5" textLength="57" lengthAdjust="spacingAndGlyphs">OUT = anglist</text>

<text class="tk" x="962" y="479.5" textLength="44" lengthAdjust="spacingAndGlyphs">val = IN[0]</text>
<text class="tk" x="962" y="491.5" textLength="51" lengthAdjust="spacingAndGlyphs">num = IN[1]</text>
<text class="tk" x="962" y="501.5" textLength="50" lengthAdjust="spacingAndGlyphs">max =val[0]</text>
<text class="tk" x="962" y="514.5" textLength="124" lengthAdjust="spacingAndGlyphs">length = int(math.sqrt(num))</text>
<text class="tk" x="962" y="526.5" textLength="44" lengthAdjust="spacingAndGlyphs">values = []</text>
<text class="tk nx" x="962" y="538.5">#count =9</text>
<text class="tk nx" x="962" y="549.5">#length=9</text>
<text class="tk" x="962" y="560.5" textLength="109" lengthAdjust="spacingAndGlyphs">for i in range(1,len(val)):</text>
<text class="tk" x="998" y="585.5" textLength="63" lengthAdjust="spacingAndGlyphs">if (val[i]&gt;max):</text>
<text class="tk" x="1034" y="597.5" textLength="49" lengthAdjust="spacingAndGlyphs">max = val[i]</text>

<text class="tk tr" x="1053" y="476.5" textLength="91" lengthAdjust="spacingAndGlyphs">for i in range(length):</text>
<text class="tk tr" x="1088" y="489.5" textLength="34" lengthAdjust="spacingAndGlyphs">key =[]</text>
<text class="tk tr" x="1088" y="501.5" textLength="92" lengthAdjust="spacingAndGlyphs">for j in range(length):</text>
<text class="tk tr" x="1048" y="530.5" font-size="9.5" textLength="142" lengthAdjust="spacingAndGlyphs">k = int(val[(i*(length))+j]*255/max);</text>
<text class="tk tr" x="1124" y="573.5" textLength="61" lengthAdjust="spacingAndGlyphs">key.append(k)</text>
<text class="tk tr" x="1088" y="585.5" textLength="84" lengthAdjust="spacingAndGlyphs">values.append(key)</text>
</g>
</svg>
